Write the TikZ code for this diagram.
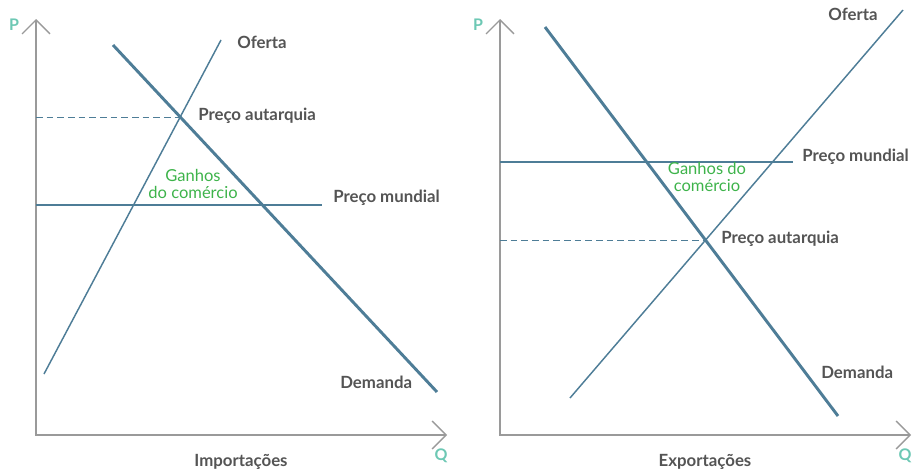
\documentclass[tikz,border=0pt]{standalone}
\usepackage{fontspec}
\setmainfont{Lato}
\usetikzlibrary{arrows.meta,intersections}

\definecolor{eixo}{HTML}{9A9A9A}
\definecolor{curva}{HTML}{4E7D97}
\definecolor{texto}{HTML}{545454}
\definecolor{ganho}{HTML}{3DB34A}
\definecolor{rotulo}{HTML}{6DC8B4}

\newcommand{\Eixos}[3]{
\coordinate (#1O) at (#2,435);
\coordinate (#1P) at (#2,19);
\coordinate (#1Q) at (#2+411,435);
\draw[Eixo] (#1P) -- (#1O) -- (#1Q);
\node[Letra] (#1p) at (#2-22,25) {P};
\node[Letra] (#1q) at (#2+405,456) {Q};
\node (#1leg) at (#2+205,462) {#3};
}

\tikzset{every node/.style={font=\bfseries\fontsize{12.6}{14}\selectfont, text=texto, inner sep=0pt}}
\tikzset{Eixo/.style={draw=eixo, line width=1pt, {Straight Barb[length=10.5pt,width=21pt,line width=1pt]}-{Straight Barb[length=10.5pt,width=21pt,line width=1pt]}}}
\tikzset{Letra/.style={text=rotulo, font=\bfseries\fontsize{12}{14}\selectfont}}
\tikzset{Oferta/.style={draw=curva, line width=1.1pt}}
\tikzset{Demanda/.style={draw=curva, line width=2.2pt}}
\tikzset{Mundial/.style={draw=curva, line width=1.1pt}}
\tikzset{Autarquia/.style={draw=curva, line width=0.7pt, dash pattern=on 5pt off 3pt}}
\tikzset{Ganho/.style={align=center, text=ganho, font=\fontsize{12.4}{12.2}\selectfont}}

\begin{document}
\begin{tikzpicture}[x=0.75pt,y=-0.75pt]
\useasboundingbox (0,0) rectangle (917,471);

% importacoes
\Eixos{E}{36}{Importações}

\coordinate (ofE1) at (44,374);
\coordinate (ofE2) at (221,40);
\coordinate (deE1) at (113,45);
\coordinate (deE2) at (437,392);
\coordinate (pmE1) at (36,205);
\coordinate (pmE2) at (322,205);

\draw[Oferta, name path=ofE] (ofE1) -- (ofE2);
\draw[Demanda, name path=deE] (deE1) -- (deE2);
\draw[Mundial] (pmE1) -- (pmE2);
\path[name intersections={of=ofE and deE, by=eqE}];
\draw[Autarquia] (eqE -| EO) -- (eqE);

\node[anchor=west] (lofE) at (237,42) {Oferta};
\node[anchor=west] (lauE) at (198,116) {Preço autarquia};
\node[Ganho] (lgaE) at (193,184) {Ganhos\\do comércio};
\node[anchor=west] (lpmE) at (333,198) {Preço mundial};
\node[anchor=west] (ldeE) at (340,382) {Demanda};

% exportacoes
\Eixos{X}{500}{Exportações}

\coordinate (ofX1) at (570,398);
\coordinate (ofX2) at (903,10);
\coordinate (deX1) at (545,27);
\coordinate (deX2) at (838,416);
\coordinate (pmX1) at (500,162);
\coordinate (pmX2) at (793,162);

\draw[Oferta, name path=ofX] (ofX1) -- (ofX2);
\draw[Demanda, name path=deX] (deX1) -- (deX2);
\draw[Mundial] (pmX1) -- (pmX2);
\path[name intersections={of=ofX and deX, by=eqX}];
\draw[Autarquia] (eqX -| XO) -- (eqX);

\node[anchor=west] (lofX) at (828,14) {Oferta};
\node[anchor=west] (lpmX) at (802,157) {Preço mundial};
\node[Ganho] (lgaX) at (707,177) {Ganhos do\\comércio};
\node[anchor=west] (lauX) at (721,239) {Preço autarquia};
\node[anchor=west] (ldeX) at (821,372) {Demanda};

\end{tikzpicture}
\end{document}
